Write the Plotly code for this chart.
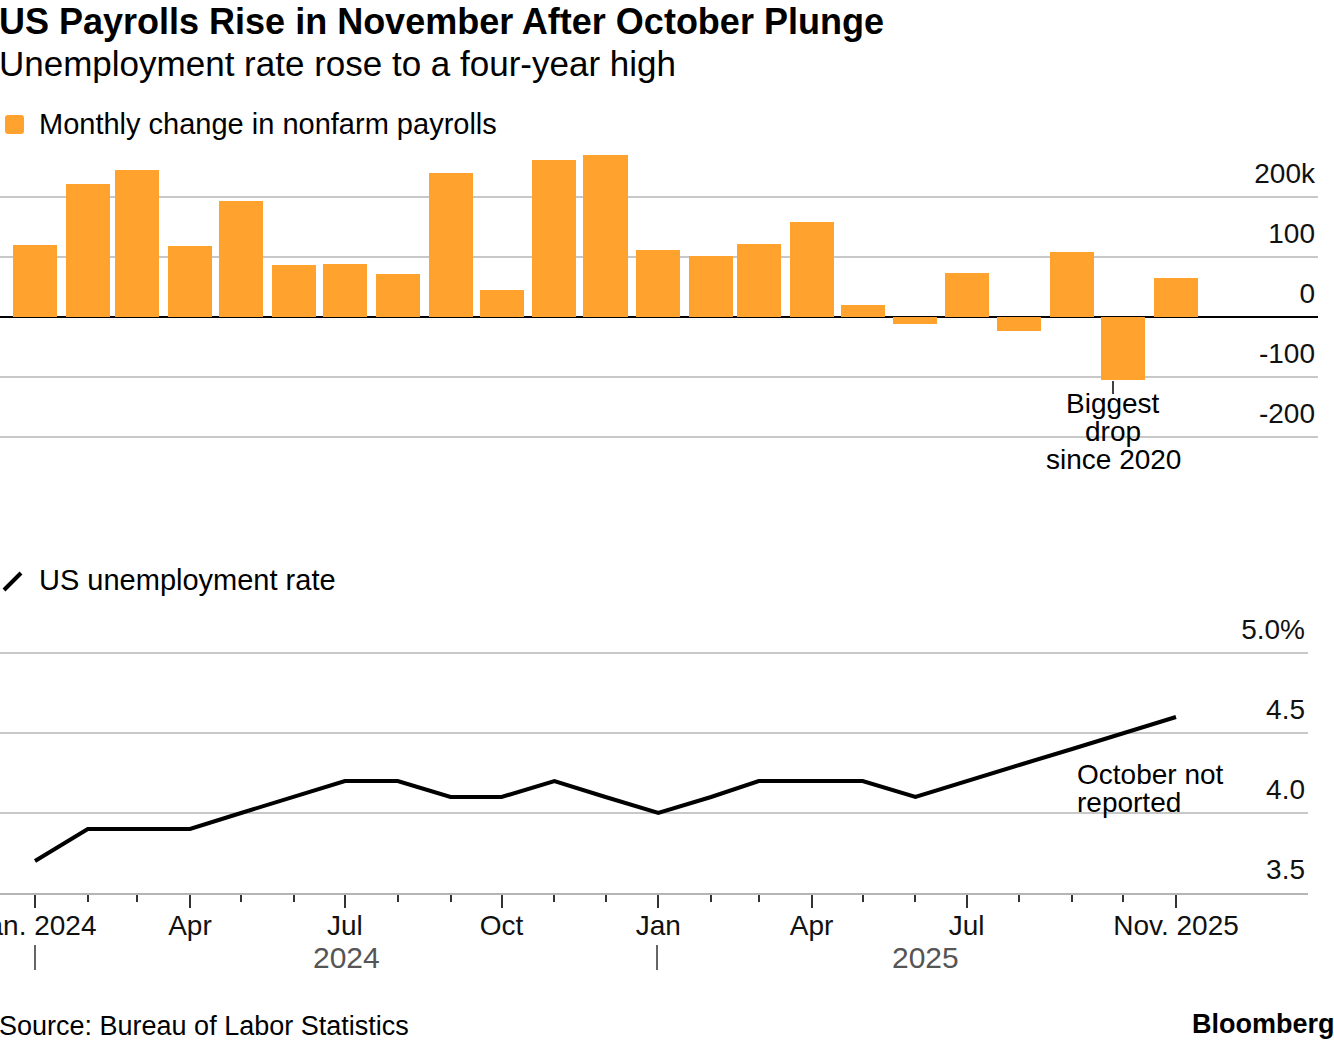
import plotly.graph_objects as go
import pandas as pd

# ---------------- data ----------------
months = pd.date_range("2024-01-01", "2025-11-01", freq="MS").strftime("%Y-%m-%d").tolist()

payrolls_k = [120, 222, 245, 118, 193, 87, 88, 72, 240, 45, 262, 270,
              112, 102, 122, 158, 20, -12, 73, -23, 108, -105, 65]

unemployment = [3.7, 3.9, 3.9, 3.9, 4.0, 4.1, 4.2, 4.2, 4.1, 4.1, 4.2, 4.1,
                4.0, 4.1, 4.2, 4.2, 4.2, 4.1, 4.2, 4.3, 4.4, None, 4.6]

x_tick_dates = ["2024-01-01", "2024-04-01", "2024-07-01", "2024-10-01",
                "2025-01-01", "2025-04-01", "2025-07-01", "2025-11-01"]
x_tick_text = ["Jan. 2024", "Apr", "Jul", "Oct", "Jan", "Apr", "Jul", "Nov. 2025"]

pay_tickvals = [-200, -100, 0, 100, 200]
pay_ticktext = ["-200", "-100", "0", "100", "200k"]
ur_tickvals = [3.5, 4.0, 4.5, 5.0]
ur_ticktext = ["3.5", "4.0", "4.5", "5.0%"]

# ---------------- layout helpers ----------------
W, H = 1334, 1044
FONT = "Liberation Sans"
ORANGE = "#FFA22E"


def fx(p):
    return p / W


def fy(p):
    return 1 - p / H


# pixel mapping for the date axis: Jan 1 2024 at 35px, Nov 1 2025 at 1176px
t0 = pd.Timestamp("2024-01-01")
t1 = pd.Timestamp("2025-11-01")
px_per_day = (1176 - 35) / (t1 - t0).days


def date_at(px):
    return (t0 + pd.Timedelta(days=(px - 35) / px_per_day)).strftime("%Y-%m-%d %H:%M")


bar_width_ms = 0.85 * 30.44 * 86400000

fig = go.Figure()

fig.add_trace(go.Bar(
    x=months, y=payrolls_k, marker=dict(color=ORANGE, line=dict(width=0)),
    width=[bar_width_ms] * len(months), xaxis="x", yaxis="y", showlegend=False,
))

fig.add_trace(go.Scatter(
    x=months, y=unemployment, mode="lines", connectgaps=True,
    line=dict(color="#000000", width=4), xaxis="x2", yaxis="y2", showlegend=False,
))

# top chart pixel mapping: 0 at 317px, 0.6 px per 1k
top_px, bot_px = 150, 460
y1_range = [-(bot_px - 317) / 0.6, (317 - top_px) / 0.6]
# bottom chart: 3.5 at 893px, 160 px per 1.0
y2_top_px, y2_bot_px = 610, 893
y2_range = [3.5, 3.5 + (893 - y2_top_px) / 160]

tickfont = dict(family=FONT, size=28, color="#111111")

fig.update_layout(
    width=W, height=H,
    margin=dict(l=0, r=0, t=0, b=0),
    paper_bgcolor="white", plot_bgcolor="white",
    font=dict(family=FONT, color="#000000"),
    bargap=0,
    xaxis=dict(
        domain=[0, fx(1318)], range=[date_at(0), date_at(1318)], type="date",
        visible=False, anchor="y",
    ),
    yaxis=dict(
        domain=[fy(bot_px), fy(top_px)], range=y1_range, side="right", anchor="x",
        tickvals=pay_tickvals, ticktext=pay_ticktext, ticklabelposition="inside top",
        tickfont=tickfont, ticks="", showgrid=True, gridcolor="#c8c8c8", gridwidth=1.5,
        zeroline=True, zerolinecolor="#000000", zerolinewidth=1.5, showline=False,
        automargin=False, ticklabelshift=-4,
    ),
    xaxis2=dict(
        domain=[0, fx(1308)], range=[date_at(0), date_at(1308)], type="date",
        anchor="y2", showline=True, linecolor="#b5b5b5", linewidth=1.5,
        ticks="outside", ticklen=13, tickwidth=1.5, tickcolor="#333333",
        tickvals=x_tick_dates, ticktext=x_tick_text, tickfont=tickfont,
        showgrid=False, zeroline=False, automargin=False,
        ticklabeloverflow="allow", ticklabelstandoff=-6,
        minor=dict(ticks="outside", ticklen=7, tickwidth=1.5, tickcolor="#333333",
                   tickvals=months, showgrid=False),
    ),
    yaxis2=dict(
        domain=[fy(y2_bot_px), fy(y2_top_px)], range=y2_range, side="right", anchor="x2",
        tickvals=ur_tickvals, ticktext=ur_ticktext, ticklabelposition="inside top",
        tickfont=tickfont, ticks="", showgrid=True, gridcolor="#c8c8c8", gridwidth=1.5,
        zeroline=False, showline=False, automargin=False, ticklabelshift=-4,
    ),
)

annotations = [
    dict(text="<b>US Payrolls Rise in November After October Plunge</b>",
         x=fx(-3), y=fy(22), xanchor="left", yanchor="middle",
         font=dict(family=FONT, size=36, color="#000000")),
    dict(text="Unemployment rate rose to a four-year high",
         x=fx(-3), y=fy(64), xanchor="left", yanchor="middle",
         font=dict(family=FONT, size=35, color="#000000")),
    dict(text="Monthly change in nonfarm payrolls",
         x=fx(37), y=fy(124), xanchor="left", yanchor="middle",
         font=dict(family=FONT, size=29, color="#000000")),
    dict(text="US unemployment rate",
         x=fx(37), y=fy(580), xanchor="left", yanchor="middle",
         font=dict(family=FONT, size=29, color="#000000")),
    dict(text="Biggest", x=fx(1113), y=fy(404), xanchor="center", yanchor="middle",
         font=dict(family=FONT, size=28, color="#000000")),
    dict(text="drop", x=fx(1113), y=fy(432), xanchor="center", yanchor="middle",
         font=dict(family=FONT, size=28, color="#000000")),
    dict(text="since 2020", x=fx(1113), y=fy(460), xanchor="center", yanchor="middle",
         font=dict(family=FONT, size=28, color="#000000")),
    dict(text="October not", x=fx(1075), y=fy(774), xanchor="left", yanchor="middle",
         font=dict(family=FONT, size=28, color="#000000")),
    dict(text="reported", x=fx(1075), y=fy(802), xanchor="left", yanchor="middle",
         font=dict(family=FONT, size=28, color="#000000")),
    dict(text="2024", x=fx(346), y=fy(957), xanchor="center", yanchor="middle",
         font=dict(family=FONT, size=30, color="#555555")),
    dict(text="2025", x=fx(925), y=fy(957), xanchor="center", yanchor="middle",
         font=dict(family=FONT, size=30, color="#555555")),
    dict(text="Source: Bureau of Labor Statistics",
         x=fx(-3), y=fy(1026), xanchor="left", yanchor="middle",
         font=dict(family=FONT, size=27, color="#000000")),
    dict(text="<b>Bloomberg</b>",
         x=fx(1337), y=fy(1024), xanchor="right", yanchor="middle",
         font=dict(family=FONT, size=27, color="#000000")),
]
for a in annotations:
    a.update(xref="paper", yref="paper", showarrow=False)
fig.update_layout(annotations=annotations)


def rounded_rect(x0, y0, x1, y1, r):
    # pixel coords -> paper path with rounded corners
    pts = [
        f"M {fx(x0 + r)},{fy(y0)}",
        f"L {fx(x1 - r)},{fy(y0)}",
        f"Q {fx(x1)},{fy(y0)} {fx(x1)},{fy(y0 + r)}",
        f"L {fx(x1)},{fy(y1 - r)}",
        f"Q {fx(x1)},{fy(y1)} {fx(x1 - r)},{fy(y1)}",
        f"L {fx(x0 + r)},{fy(y1)}",
        f"Q {fx(x0)},{fy(y1)} {fx(x0)},{fy(y1 - r)}",
        f"L {fx(x0)},{fy(y0 + r)}",
        f"Q {fx(x0)},{fy(y0)} {fx(x0 + r)},{fy(y0)}",
        "Z",
    ]
    return " ".join(pts)


shapes = [
    # legend swatch (bar)
    dict(type="path", path=rounded_rect(5, 115, 24, 134, 3),
         fillcolor=ORANGE, line=dict(width=0)),
    # legend swatch (line)
    dict(type="line", x0=fx(4), x1=fx(21), y0=fy(590), y1=fy(573),
         line=dict(color="#000000", width=4)),
    # leader line for annotation
    dict(type="line", x0=fx(1113), x1=fx(1113), y0=fy(381), y1=fy(394),
         line=dict(color="#000000", width=1.5)),
    # year separators
    dict(type="line", x0=fx(35), x1=fx(35), y0=fy(945), y1=fy(970),
         line=dict(color="#333333", width=1.5)),
    dict(type="line", x0=fx(657), x1=fx(657), y0=fy(945), y1=fy(970),
         line=dict(color="#333333", width=1.5)),
]
for s in shapes:
    s.update(xref="paper", yref="paper")
fig.update_layout(shapes=shapes)

fig.write_html("out.html", config={"displayModeBar": False},
               post_script="document.body.style.margin='0';")
